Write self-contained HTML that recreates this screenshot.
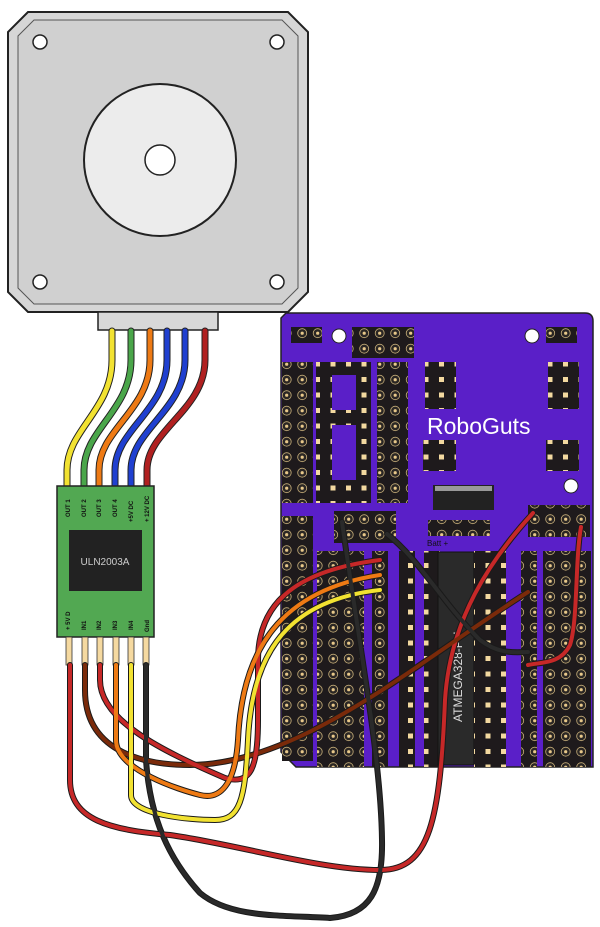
<!DOCTYPE html>
<html><head><meta charset="utf-8"><style>html,body{margin:0;padding:0;background:#fff}svg{display:block}</style></head>
<body>
<svg width="600" height="927" viewBox="0 0 600 927" xmlns="http://www.w3.org/2000/svg">
<defs>
<pattern id="h" x="0" y="0" width="15.5" height="15.5" patternUnits="userSpaceOnUse">
<rect width="15.5" height="15.5" fill="#1e1a1c"/><circle cx="7.7" cy="7.7" r="4.5" fill="#2a2624" stroke="#c9b07a" stroke-width="0.8"/><circle cx="7.7" cy="7.7" r="1.6" fill="#e8c88a"/></pattern>
<pattern id="s" x="0" y="0" width="15.5" height="15.5" patternUnits="userSpaceOnUse">
<rect width="15.5" height="15.5" fill="#1e1a1c"/><rect x="5" y="5" width="5" height="5" fill="#f3d9a0"/></pattern>
</defs>
<!-- motor -->
<polygon points="28,12 288,12 308,32 308,292 288,312 28,312 8,292 8,32" fill="#d6d6d6" stroke="#222" stroke-width="2"/>
<polygon points="34,20 282,20 298,36 298,288 282,304 34,304 18,288 18,36" fill="#d0d0d0" stroke="#555" stroke-width="1"/>
<circle cx="40" cy="42" r="7" fill="#fff" stroke="#222" stroke-width="1.5"/>
<circle cx="277" cy="42" r="7" fill="#fff" stroke="#222" stroke-width="1.5"/>
<circle cx="40" cy="282" r="7" fill="#fff" stroke="#222" stroke-width="1.5"/>
<circle cx="277" cy="282" r="7" fill="#fff" stroke="#222" stroke-width="1.5"/>
<circle cx="160" cy="160" r="76" fill="#ececec" stroke="#222" stroke-width="2"/>
<circle cx="160" cy="160" r="15" fill="#fff" stroke="#222" stroke-width="1.5"/>
<rect x="98" y="312" width="120" height="18" fill="#d8d8d8" stroke="#222" stroke-width="1.5"/>
<!-- motor wires -->
<g fill="none" stroke-width="5" stroke-linecap="round">
<g stroke="#222" stroke-width="7">
<path d="M112,331 V360 C112,410 67,430 67,470 V486"/>
<path d="M131,331 V360 C131,410 84,430 84,470 V486"/>
<path d="M150,331 V360 C150,410 99,430 99,470 V486"/>
<path d="M167,331 V360 C167,410 115,430 115,470 V486"/>
<path d="M185,331 V360 C185,410 131,430 131,470 V486"/>
<path d="M205,331 V360 C205,410 147,430 147,470 V486"/>
</g>
<path d="M112,331 V360 C112,410 67,430 67,470 V486" stroke="#f2e231"/>
<path d="M131,331 V360 C131,410 84,430 84,470 V486" stroke="#4aa64a"/>
<path d="M150,331 V360 C150,410 99,430 99,470 V486" stroke="#ee7a14"/>
<path d="M167,331 V360 C167,410 115,430 115,470 V486" stroke="#2040d0"/>
<path d="M185,331 V360 C185,410 131,430 131,470 V486" stroke="#2040d0"/>
<path d="M205,331 V360 C205,410 147,430 147,470 V486" stroke="#b02020"/>
</g>
<!-- driver board -->
<rect x="57" y="486" width="97" height="151" fill="#52a852" stroke="#222" stroke-width="1.5"/>
<rect x="69" y="530" width="73" height="61" fill="#222"/>
<text x="105" y="565" font-family="Liberation Sans, sans-serif" font-size="10" fill="#ccc" text-anchor="middle">ULN2003A</text>
<g font-family="Liberation Sans, sans-serif" font-size="6" font-weight="bold" fill="#111">
<text transform="translate(70,517) rotate(-90)">OUT 1</text>
<text transform="translate(86,517) rotate(-90)">OUT 2</text>
<text transform="translate(101,517) rotate(-90)">OUT 3</text>
<text transform="translate(117,517) rotate(-90)">OUT 4</text>
<text transform="translate(133,522) rotate(-90)">+5V DC</text>
<text transform="translate(149,522) rotate(-90)">+ 12V DC</text>
<text transform="translate(70,630) rotate(-90)">+ 5V D</text>
<text transform="translate(86,630) rotate(-90)">IN1</text>
<text transform="translate(101,630) rotate(-90)">IN2</text>
<text transform="translate(117,630) rotate(-90)">IN3</text>
<text transform="translate(133,630) rotate(-90)">IN4</text>
<text transform="translate(149,632) rotate(-90)">Gnd</text>
</g>
<g fill="#f5d9a0" stroke="#333" stroke-width="0.8">
<rect x="66" y="637" width="6" height="28"/><rect x="82" y="637" width="6" height="28"/><rect x="97" y="637" width="6" height="28"/><rect x="113" y="637" width="6" height="28"/><rect x="128" y="637" width="6" height="28"/><rect x="143" y="637" width="6" height="28"/>
</g>
<!-- PCB -->
<path d="M286,313 H585 Q593,313 593,321 V767 H296 L281,752 V318 Z" fill="#5a1fc8" stroke="#222" stroke-width="1.5"/>
<circle cx="339" cy="336" r="7" fill="#fff" stroke="#222"/>
<circle cx="532" cy="336" r="7" fill="#fff" stroke="#222"/>
<circle cx="571" cy="486" r="7" fill="#fff" stroke="#222"/>
<rect x="291" y="327" width="31" height="16" fill="url(#h)"/>
<rect x="352" y="327" width="62" height="31" fill="url(#h)"/>
<rect x="546" y="327" width="31" height="16" fill="url(#h)"/>
<rect x="282" y="362" width="31" height="141" fill="url(#h)"/>
<rect x="316" y="362" width="55" height="141" fill="url(#s)"/>
<rect x="332" y="375" width="24" height="35" fill="#5a1fc8"/>
<rect x="332" y="425" width="24" height="55" fill="#5a1fc8"/>
<rect x="377" y="362" width="31" height="141" fill="url(#h)"/>
<rect x="425" y="362" width="31" height="47" fill="url(#s)"/>
<rect x="548" y="362" width="31" height="47" fill="url(#s)"/>
<rect x="423" y="440" width="33" height="31" fill="url(#s)"/>
<rect x="546" y="440" width="33" height="31" fill="url(#s)"/>
<text x="427" y="434" font-family="Liberation Sans, sans-serif" font-size="23" fill="#fff">RoboGuts</text>
<rect x="433" y="485" width="61" height="25" fill="#222"/>
<rect x="435" y="486" width="57" height="5" fill="#999"/>
<rect x="282" y="516" width="31" height="245" fill="url(#h)"/>
<rect x="334" y="511" width="62" height="32" fill="url(#h)"/>
<rect x="428" y="520" width="62" height="16" fill="url(#h)"/>
<text x="427" y="546" font-family="Liberation Sans, sans-serif" font-size="8" fill="#111">Batt +</text>
<rect x="528" y="505" width="62" height="32" fill="url(#h)"/>
<rect x="317" y="551" width="47" height="216" fill="url(#h)"/>
<rect x="372" y="551" width="16" height="216" fill="url(#h)"/>
<rect x="399" y="551" width="16" height="216" fill="url(#s)"/>
<rect x="424" y="551" width="16" height="216" fill="url(#s)"/>
<rect x="438" y="552" width="36" height="213" fill="#2a2a2a" stroke="#111"/>
<rect x="474" y="551" width="16" height="216" fill="url(#s)"/>
<text transform="translate(462,722) rotate(-90)" font-family="Liberation Sans, sans-serif" font-size="12" fill="#ddd">ATMEGA328-PU</text>
<rect x="490" y="551" width="16" height="216" fill="url(#s)"/>
<rect x="521" y="551" width="16" height="216" fill="url(#h)"/>
<rect x="543" y="551" width="48" height="216" fill="url(#h)"/>
<!-- wires to PCB -->
<g fill="none" stroke-linecap="round" stroke-linejoin="round">
<g stroke="#1a1a1a" stroke-width="6">
<path d="M70,665 V780 C70,820 110,830 170,835 C240,845 320,870 380,870 C430,870 440,820 445,700 C450,620 490,560 533,513"/>
<path d="M85,665 V690 C85,750 140,765 190,765 C300,765 420,660 528,592"/>
<path d="M100,665 V680 C100,720 160,750 225,778 C250,785 258,770 258,720 V660 C258,600 300,570 380,560"/>
<path d="M116,665 V740 C116,770 180,790 200,795 C220,800 235,785 238,740 C242,650 280,590 380,575"/>
<path d="M131,665 V795 C131,815 190,820 215,820 C240,820 245,800 248,740 C252,650 290,600 380,590"/>
<path d="M146,665 V760 C150,820 170,860 200,893 C230,918 280,915 330,918 C370,915 383,890 382,840 C381,760 360,650 342,522"/>
<path d="M387,534 C420,560 440,600 480,640 C500,655 515,652 528,652"/>
<path d="M581,527 C575,560 578,620 570,645 C560,665 540,662 528,665"/>
</g>
<path d="M70,665 V780 C70,820 110,830 170,835 C240,845 320,870 380,870 C430,870 440,820 445,700 C450,620 490,560 533,513" stroke="#c62828" stroke-width="4"/>
<path d="M85,665 V690 C85,750 140,765 190,765 C300,765 420,660 528,592" stroke="#7a2a0a" stroke-width="4"/>
<path d="M100,665 V680 C100,720 160,750 225,778 C250,785 258,770 258,720 V660 C258,600 300,570 380,560" stroke="#c62828" stroke-width="4"/>
<path d="M116,665 V740 C116,770 180,790 200,795 C220,800 235,785 238,740 C242,650 280,590 380,575" stroke="#ee7a14" stroke-width="4"/>
<path d="M131,665 V795 C131,815 190,820 215,820 C240,820 245,800 248,740 C252,650 290,600 380,590" stroke="#f2e231" stroke-width="4"/>
<path d="M146,665 V760 C150,820 170,860 200,893 C230,918 280,915 330,918 C370,915 383,890 382,840 C381,760 360,650 342,522" stroke="#2a2a2a" stroke-width="4"/>
<path d="M387,534 C420,560 440,600 480,640 C500,655 515,652 528,652" stroke="#2a2a2a" stroke-width="4"/>
<path d="M581,527 C575,560 578,620 570,645 C560,665 540,662 528,665" stroke="#c62828" stroke-width="4"/>
</g>
</svg>
</body></html>
